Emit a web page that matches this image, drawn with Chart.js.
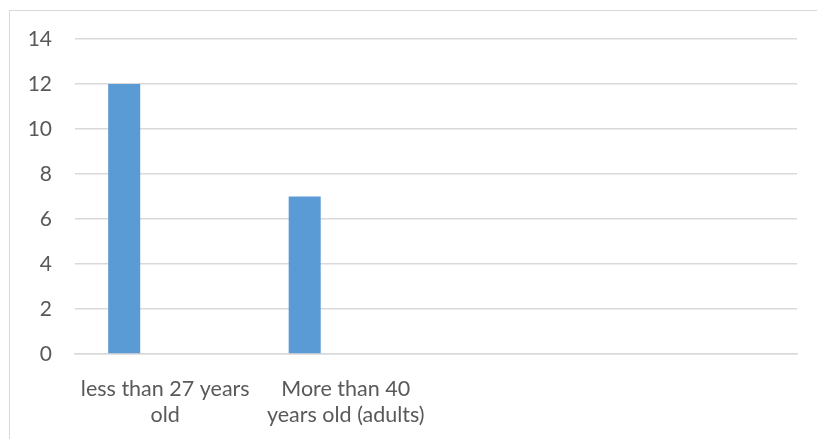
<!DOCTYPE html>
<html>
<head>
<meta charset="utf-8">
<script src="https://cdn.jsdelivr.net/npm/chart.js@4.4.0/dist/chart.umd.min.js"></script>
<style>
  body { margin: 0; background: #fff; overflow: hidden; }
  #frame { position: absolute; left: 9px; top: 10px; width: 830px; height: 450px; border: 1px solid #d9d9d9; }
  #wrap { position: absolute; left: 0; top: 0; width: 817px; height: 439px; }
</style>
</head>
<body>
<div id="frame"></div>
<div id="wrap"><canvas id="chart"></canvas></div>
<script>
// Chart data
const categories = [
  ['less than 27 years', 'old'],
  ['More than 40', 'years old (adults)'],
  '',
  ''
];
const series1 = [12, 7, null, null];
const series2 = [null, null, null, null];   // empty column in the source sheet
const yTicks = [0, 2, 4, 6, 8, 10, 12, 14];

const textColor = '#595959';
const gridColor = '#d9d9d9';

const ctx = document.getElementById('chart').getContext('2d');

new Chart(ctx, {
  type: 'bar',
  data: {
    labels: categories,
    datasets: [{
      label: 'Series1',
      data: series1,
      backgroundColor: '#5b9bd5',
      borderWidth: 0,
      barPercentage: 0.39,
      categoryPercentage: 0.91
    }, {
      label: 'Series2',
      data: series2,
      backgroundColor: '#ed7d31',
      borderWidth: 0,
      barPercentage: 0.39,
      categoryPercentage: 0.91
    }]
  },
  options: {
    responsive: true,
    maintainAspectRatio: false,
    animation: false,
    layout: {
      padding: { top: 39, right: 20, bottom: 0, left: 0 }
    },
    plugins: {
      legend: { display: false },
      tooltip: { enabled: false }
    },
    scales: {
      x: {
        grid: { display: false, drawTicks: false },
        border: { display: true, color: gridColor, width: 1.5 },
        ticks: {
          color: textColor,
          font: { family: 'Lato', size: 21.5, lineHeight: 1.22 },
          padding: 22,
          maxRotation: 0,
          autoSkip: false
        },
        afterFit: function(scale) {
          scale.height = 439 - 354;
        }
      },
      y: {
        min: 0,
        max: 14,
        afterBuildTicks: function(scale) {
          scale.ticks = yTicks.map(v => ({ value: v }));
        },
        grid: { color: gridColor, lineWidth: 1.5, drawTicks: false },
        border: { display: false },
        ticks: {
          color: textColor,
          font: { family: 'Lato', size: 21 },
          padding: 23
        },
        afterFit: function(scale) {
          scale.width = 75;
        }
      }
    }
  }
});
</script>
</body>
</html>
